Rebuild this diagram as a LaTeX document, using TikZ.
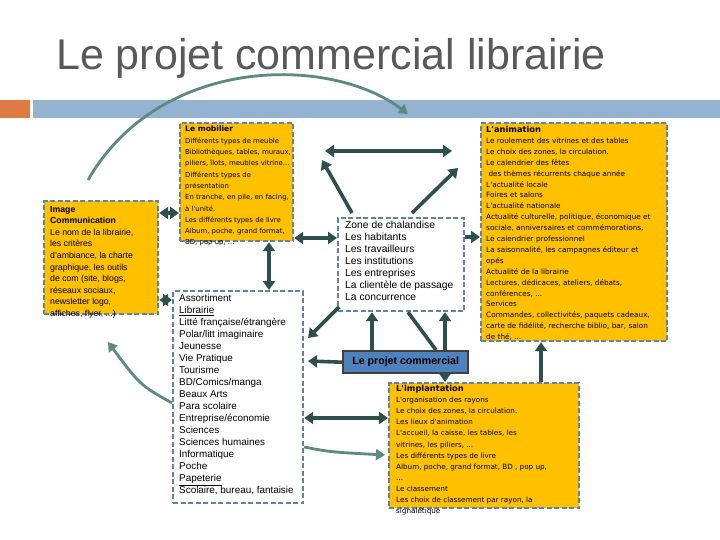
\documentclass[tikz,border=0pt]{standalone}
\usepackage{fontspec}
\setmainfont{Liberation Sans}
\newfontfamily\dvs{DejaVu Sans}
\usetikzlibrary{arrows.meta}
\definecolor{ybox}{HTML}{FFC000}
\definecolor{dashc}{HTML}{5F83A6}
\definecolor{arr}{HTML}{2F4F4B}
\definecolor{arrl}{HTML}{5B8A80}
\definecolor{bar}{HTML}{94B3D0}
\definecolor{orng}{HTML}{DD7B44}
\definecolor{pbox}{HTML}{4F81BD}
\tikzset{
 box/.style={draw=dashc,line width=2.2pt,dash pattern=on 5pt off 2.5pt,anchor=north west,inner sep=0pt},
 ybx/.style={box,fill=ybox},
 wbx/.style={box,fill=white},
 txt/.style={anchor=north west,align=left,inner sep=0pt,font=\dvs\fontsize{8.1}{11.3}\selectfont},
 wtxt/.style={anchor=north west,align=left,inner sep=0pt,font=\fontsize{10.3}{12}\selectfont},
 dar/.style={draw=arr,line width=3.6pt,-{Triangle[length=9pt,width=12pt]}},
 ddar/.style={draw=arr,line width=3.6pt,{Triangle[length=9pt,width=12pt]}-{Triangle[length=9pt,width=12pt]}},
 lar/.style={draw=arrl,line width=2.8pt,-{Triangle[length=9pt,width=11pt]}},
}
\begin{document}
\begin{tikzpicture}[x=1pt,y=-1pt]
\useasboundingbox (0,0) rectangle (720,540);
\node[anchor=west,inner sep=0pt,text=black!65,font=\fontsize{43}{46}\selectfont] (title) at (56,58) {Le projet commercial librairie};
\fill[orng] (0,100) rectangle (30,118);
\fill[bar] (33,100) rectangle (720,118);
% boxes
\node[ybx,minimum width=114pt,minimum height=113pt] (img) at (43,200) {};
\node[anchor=north west,align=left,inner sep=0pt,font=\fontsize{8.7}{11.6}\selectfont] (imgt) at (50,206) {\textbf{Image}\\\textbf{Communication}\\Le nom de la librairie,\\les critères\\d'ambiance,  la charte\\graphique,  les outils\\de com (site, blogs,\\réseaux sociaux,\\newsletter logo,\\affiches, flyer, ...)};
\node[ybx,minimum width=113pt,minimum height=118pt] (mob) at (179,122) {};
\node[txt,font=\dvs\fontsize{6.9}{11.3}\selectfont] (mobt) at (185,126) {\textbf{\fontsize{7.6}{11}\selectfont Le mobilier}\\Différents types de meuble\\Bibliothèques, tables, muraux,\\piliers, îlots, meubles vitrine...\\Différents types de\\présentation\\En tranche, en pile, en facing,\\à l'unité.\\Les différents types de livre\\Album, poche, grand format,\\BD, pop up, ...};
\node[wbx,minimum width=130pt,minimum height=212pt] (ass) at (172,290) {};
\node[wtxt,font=\fontsize{9.9}{12}\selectfont] (asst) at (179,294) {Assortiment\\\underline{Librairie}\\Litté française/étrangère\\Polar/litt imaginaire\\Jeunesse\\Vie Pratique\\Tourisme\\BD/Comics/manga\\Beaux Arts\\Para scolaire\\Entreprise/économie\\Sciences\\Sciences humaines\\Informatique\\Poche\\\underline{Papeterie}\\Scolaire, bureau, fantaisie};
\node[wbx,minimum width=126pt,minimum height=93pt] (zone) at (337,217) {};
\node[wtxt] (zonet) at (345,221) {Zone de chalandise\\Les habitants\\Les travailleurs\\Les institutions\\Les entreprises\\La clientèle de passage\\La concurrence};
\node[ybx,minimum width=186pt,minimum height=218pt] (ani) at (480,122) {};
\node[txt,font=\dvs\fontsize{7.3}{10.9}\selectfont] (anit) at (486,126) {\textbf{\fontsize{8.3}{11}\selectfont L'animation}\\Le roulement des vitrines et des tables\\Le choix des zones, la circulation.\\Le calendrier des fêtes\\\ des thèmes récurrents chaque année\\L'actualité locale\\Foires et salons\\L'actualité nationale\\Actualité culturelle, politique, économique et\\sociale,  anniversaires et commémorations,\\Le calendrier professionnel\\La saisonnalité, les campagnes éditeur et\\opés\\Actualité de la librairie\\Lectures, dédicaces, ateliers, débats,\\conférences, ...\\Services\\Commandes, collectivités, paquets cadeaux,\\carte de fidélité, recherche biblio, bar, salon\\de thé, ...};
\node[ybx,minimum width=190pt,minimum height=125pt] (imp) at (388,382) {};
\node[txt,font=\dvs\fontsize{7.2}{11.1}\selectfont] (impt) at (396,385) {\textbf{\fontsize{8.3}{11}\selectfont L'implantation}\\L'organisation des rayons\\Le choix des zones, la circulation.\\Les lieux d'animation\\L'accueil, la caisse, les tables, les\\vitrines, les piliers, ...\\Les différents types de livre\\Album, poche, grand format, BD , pop up,\\...\\Le classement\\Les choix de classement par rayon, la\\signalétique};
\node[draw=black!75,line width=2.4pt,fill=pbox,anchor=north west,minimum width=125pt,minimum height=22pt,inner sep=0pt,font=\bfseries\fontsize{10.6}{12}\selectfont] (proj) at (342,350) {Le projet commercial};
% connectors
\coordinate (a1) at (325,151); \coordinate (a2) at (452,151);
\draw[ddar] (a1) -- (a2);
\coordinate (z1) at (352,213); \coordinate (m1) at (322,160);
\draw[dar] (z1) -- (m1);
\coordinate (z2) at (412,213); \coordinate (n1) at (458,168);
\draw[dar] (z2) -- (n1);
\draw[ddar] (mob.south east |- 0,238) -- (zone.west |- 0,238);
\draw[dar] (zone.east |- 0,237) -- (ani.west |- 0,237);
\draw[ddar] (mob.south -| 269,0) -- (ass.north -| 269,0);
\draw[ddar] (img.east |- 0,213) -- (mob.west |- 0,213);
\draw[ddar] (img.east |- 0,300) -- (ass.west |- 0,300);
\coordinate (z3) at (339,307); \coordinate (s1) at (308,338);
\draw[dar] (z3) -- (s1);
\draw[dar] (proj.west) -- (308,361);
\draw[dar] (proj.north -| 372,0) -- (zone.south -| 372,0);
\draw[dar] (proj.north -| 445,0) -- (zone.south -| 445,0);
\draw[draw=arr,line width=3.6pt] (zone.south -| 408,0) -- (proj.north -| 436,0);
\draw[dar] (proj.south -| 445,0) -- (imp.north -| 445,0);
\draw[dar] (imp.north -| 541,0) -- (ani.south -| 541,0);
\draw[ddar] (ass.east |- 0,418) -- (imp.west |- 0,418);
\draw[lar] (ass.east |- 0,447) .. controls (330,452) .. (385,455);
\draw[lar] (ass.west |- 0,403) .. controls (140,385) .. (108,342);
\coordinate (c1) at (88,180); \coordinate (c2) at (408,114);
\draw[lar] (c1) .. controls (160,55) and (330,55) .. (c2);
\end{tikzpicture}
\end{document}
